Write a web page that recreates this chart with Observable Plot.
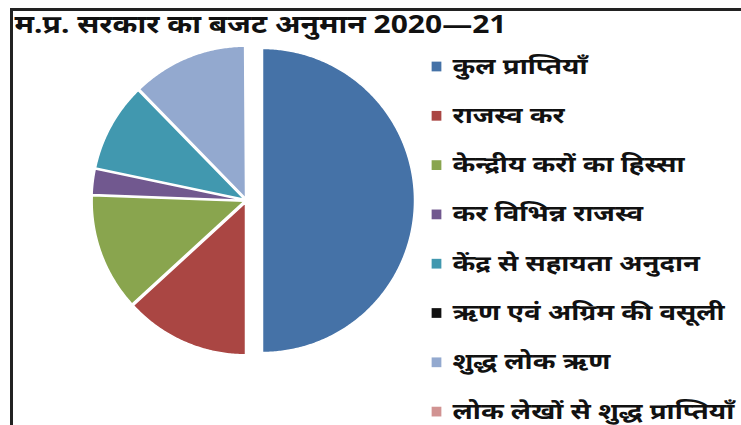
<!DOCTYPE html>
<html>
<head>
<meta charset="utf-8">
<script src="https://cdn.jsdelivr.net/npm/d3@7"></script>
<script src="https://cdn.jsdelivr.net/npm/@observablehq/plot@0.6"></script>
<style>
  html, body { margin: 0; padding: 0; background: #fff; }
  #chart { width: 741px; height: 425px; }
</style>
</head>
<body>
<div id="chart"></div>
<script>
// ---- data ----
const title = "म.प्र. सरकार का बजट अनुमान 2020—21";
const categories = [
  "कुल प्राप्तियाँ",
  "राजस्व कर",
  "केन्द्रीय करों का हिस्सा",
  "कर विभिन्न राजस्व",
  "केंद्र से सहायता अनुदान",
  "ऋण एवं अग्रिम की वसूली",
  "शुद्ध लोक ऋण",
  "लोक लेखों से शुद्ध प्राप्तियाँ"
];
const shares = [50, 13.2, 12.4, 2.7, 9.4, 0, 12.2, 0.1];
const colors = ["#4572A7", "#AA4643", "#89A54E", "#71588F", "#4198AF", "#111111", "#93A9CF", "#D19392"];

// ---- layout ----
const W = 741, H = 425;
const cx = 246, cy = 200, R = 152;
const pieOrder = [0, 1, 2, 3, 4, 6, 7, 5]; // drawing order around the pie

const pie = d3.pie().sort(null).value(i => shares[i])(pieOrder);
const slicePts = [];
for (const a of pie) {
  const i = a.data;
  if (a.endAngle - a.startAngle <= 0) continue;
  const mid = (a.startAngle + a.endAngle) / 2;
  const off = i === 0 ? 16 : 2.5;
  const ox = cx + off * Math.sin(mid), oy = cy - off * Math.cos(mid);
  slicePts.push({k: i, x: ox, y: oy});
  const n = Math.max(2, Math.ceil((a.endAngle - a.startAngle) / 0.01));
  for (let j = 0; j <= n; j++) {
    const t = a.startAngle + (a.endAngle - a.startAngle) * j / n;
    slicePts.push({k: i, x: ox + R * Math.sin(t), y: oy - R * Math.cos(t)});
  }
}

const legend = categories.map((c, i) => ({c, i, y: 66 + i * 49.3}));

const font = "'Noto Sans', 'Noto Sans Devanagari', 'Lohit Devanagari', 'FreeSans', sans-serif";

const chart = Plot.plot({
  width: W, height: H,
  margin: 0,
  x: {domain: [0, W], range: [0, W], axis: null},
  y: {domain: [0, H], range: [0, H], axis: null},
  style: {fontFamily: font, background: "#fff"},
  marks: [
    Plot.line(slicePts, {x: "x", y: "y", z: "k", curve: "linear-closed",
      fill: d => colors[d.k], stroke: "#fff", strokeWidth: 1.5}),
    Plot.ruleX([11], {y1: 8, y2: H, stroke: "#222", strokeWidth: 3}),
    Plot.ruleY([9], {x1: 10, x2: W, stroke: "#222", strokeWidth: 3}),
    Plot.text([title], {x: 14, y: 24, text: d => d, textAnchor: "start",
      fontSize: 25, fontWeight: "bold", fill: "#111", className: "ttl"}),
    Plot.dot(legend, {x: 436, y: "y", symbol: "square", r: 5.5,
      fill: d => colors[d.i], stroke: null}),
    Plot.text(legend, {x: 452, y: "y", text: "c", textAnchor: "start",
      fontSize: 22, fontWeight: "bold", fill: "#111", className: "leg"})
  ]
});
document.getElementById("chart").append(chart);

// widen the glyphs to match the wider original typeface
function stretch(sel, factor) {
  chart.querySelectorAll(sel + " text").forEach(t => {
    const len = t.getComputedTextLength();
    t.setAttribute("textLength", (len * factor).toFixed(1));
    t.setAttribute("lengthAdjust", "spacingAndGlyphs");
  });
}
stretch(".ttl", 1.2);
stretch(".leg", 1.25);
</script>
</body>
</html>
